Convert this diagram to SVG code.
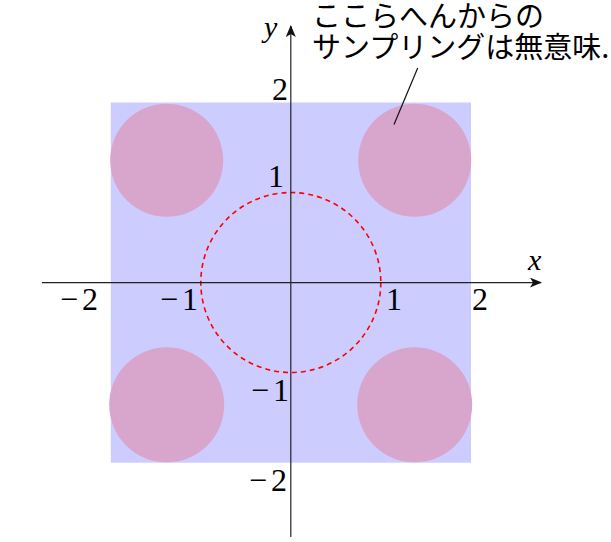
<svg xmlns="http://www.w3.org/2000/svg" width="611" height="542" viewBox="0 0 611 542">
<style>
.num{font-family:"Liberation Serif","Times New Roman",serif;font-size:32px;fill:#000}
.var{font-family:"Liberation Serif","Times New Roman",serif;font-style:italic;font-size:30px;fill:#000}
.jp{font-family:"Noto Sans CJK JP","Noto Sans",sans-serif;font-size:29px;fill:#000}
.axis{stroke:#222;stroke-width:1.2;fill:none}
.blob{fill:#d8a6cc}
</style>
<defs>
<marker id="arr" viewBox="0 0 12 10" refX="11" refY="5" markerWidth="12" markerHeight="10" markerUnits="userSpaceOnUse" orient="auto">
<path d="M0,0 L12,5 L0,10 L3,5 Z" fill="#111"/>
</marker>
</defs>
<g id="region">
<rect x="110.8" y="102.5" width="360.2" height="360.2" fill="#ccccff"/>
</g>
<g id="blobs">
<circle class="blob" cx="166.7" cy="160.3" r="56.5"/>
<circle class="blob" cx="414.7" cy="160.3" r="56.5"/>
<circle class="blob" cx="166.7" cy="404.8" r="57.5"/>
<circle class="blob" cx="414.7" cy="404.8" r="57.5"/>
</g>
<g id="unit-circle">
<circle cx="290.8" cy="282.5" r="90" fill="none" stroke="#ff0000" stroke-width="1.6" stroke-dasharray="5 4"/>
</g>
<g id="axes">
<line class="axis" x1="42" y1="282.6" x2="541" y2="282.6" marker-end="url(#arr)"/>
<line class="axis" x1="290.8" y1="537" x2="290.8" y2="26" marker-end="url(#arr)"/>
</g>
<g id="labels">
<text class="var" x="528" y="270">x</text>
<text class="var" x="264" y="37">y</text>
<text class="num" x="98" y="310" text-anchor="end">−<tspan dx="4">2</tspan></text>
<text class="num" x="198" y="310" text-anchor="end">−<tspan dx="4">1</tspan></text>
<text class="num" x="386" y="310">1</text>
<text class="num" x="472" y="310">2</text>
<text class="num" x="288" y="100" text-anchor="end">2</text>
<text class="num" x="284" y="187" text-anchor="end">1</text>
<text class="num" x="289" y="401" text-anchor="end">−<tspan dx="4">1</tspan></text>
<text class="num" x="287" y="491" text-anchor="end">−<tspan dx="4">2</tspan></text>
</g>
<g id="annotation">
<text class="jp" x="312" y="26.5">ここらへんからの</text>
<text class="jp" x="312" y="57.5">サンプリングは無意味.</text>
<line x1="417.7" y1="68" x2="394" y2="124.5" stroke="#111" stroke-width="1.2"/>
</g>
</svg>
